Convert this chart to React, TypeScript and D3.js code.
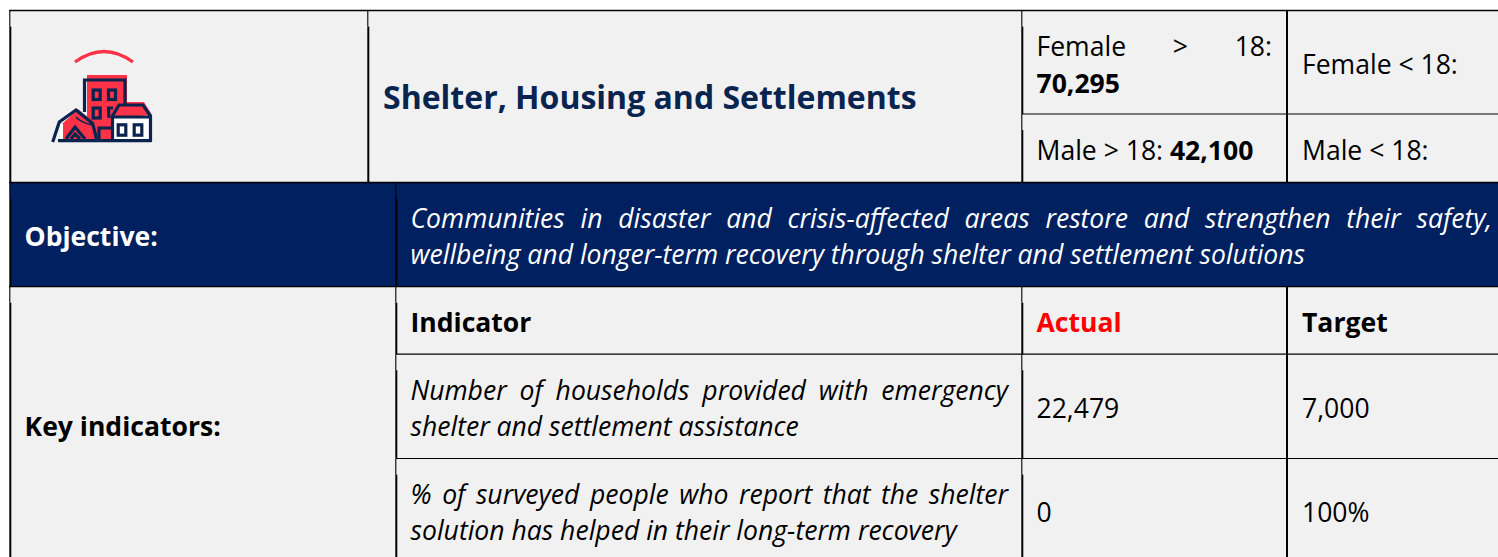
import React, { useEffect, useRef } from 'react';
import * as d3 from 'd3';

// table content
const sectorTitle = 'Shelter, Housing and Settlements';
const femaleAdult = ['Female > 18:', '70,295'];
const maleAdult = ['Male > 18: ', '42,100'];
const minorLabels = ['Female < 18:', 'Male < 18:'];
const objectiveLabel = 'Objective:';
const objectiveLines = [
  'Communities in disaster and crisis-affected areas restore and strengthen their safety,',
  'wellbeing and longer-term recovery through shelter and settlement solutions',
];
const keyLabel = 'Key indicators:';
const tableHeaders = ['Indicator', 'Actual', 'Target'];
const indicatorLines = [
  ['Number of households provided with emergency', 'shelter and settlement assistance'],
  ['% of surveyed people who report that the shelter', 'solution has helped in their long-term recovery'],
];
const actualValues = ['22,479', '0'];
const targetValues = ['7,000', '100%'];

const W = 1498;
const H = 557;
const NAVY = '#002060';
const INK = '#0a2450';
const GREY = '#f1f1f1';
const FONT = '"Open Sans", sans-serif';
const FS = 26.55;

export default function App() {
  const ref = useRef<SVGSVGElement>(null);

  useEffect(() => {
    const svg = d3.select(ref.current);
    svg.selectAll('*').remove();

    const col = { left: 10, split: 368, split2: 396, actual: 1022, target: 1287 };
    const row = { top: 10.5, mid: 114, head: 182.5, obj: 286.7, ind: 354.2, ind2: 458.5 };

    svg.append('rect').attr('x', col.left).attr('y', row.top).attr('width', W - col.left).attr('height', H - row.top).attr('fill', GREY);
    svg.append('rect').attr('x', col.left).attr('y', row.head).attr('width', W - col.left).attr('height', row.obj - row.head).attr('fill', NAVY);

    const rules = svg.append('g').attr('stroke', '#000').attr('fill', 'none');
    const line = (x1: number, y1: number, x2: number, y2: number, w: number) =>
      rules.append('line').attr('x1', x1).attr('y1', y1).attr('x2', x2).attr('y2', y2).attr('stroke-width', w);
    // cell borders in the source start thin for 16px, then go thick and shift right
    const cellEdge = (x: number, y1: number, y2: number) => {
      line(x - 0.2, y1, x - 0.2, y1 + 16, 1.1);
      line(x + 0.3, y1 + 16, x + 0.3, y2, 2);
    };

    // horizontal rules
    line(col.left - 1, row.top, W, row.top, 1.3);
    line(col.actual, row.mid, W, row.mid, 1.2);
    line(col.left - 1, row.head, W, row.head, 1.5);
    line(col.left - 1, row.obj, W, row.obj, 1.3);
    line(col.split2, row.ind, W, row.ind, 1.2);
    line(col.split2, row.ind2, W, row.ind2, 1.2);
    // vertical rules
    [[row.top, row.head], [row.head, row.obj], [row.obj, H]].forEach(([a, b]) => cellEdge(col.left, a, b));
    cellEdge(col.split, row.top, row.head);
    [[row.head, row.obj], [row.obj, row.ind], [row.ind, row.ind2], [row.ind2, H]].forEach(([a, b]) => cellEdge(col.split2, a, b));
    [[row.top, row.mid], [row.mid, row.head], [row.obj, row.ind], [row.ind, row.ind2], [row.ind2, H]].forEach(([a, b]) => cellEdge(col.actual, a, b));
    line(col.target, row.top, col.target, row.head, 2);
    line(col.target, row.obj, col.target, H, 2);

    // justifyTo spreads the words over the cell like the original justified text
    const put = (
      x: number,
      y: number,
      parts: { t: string; bold?: boolean }[],
      opts: { fill?: string; size?: number; italic?: boolean; justifyTo?: number } = {},
    ) => {
      const el = svg.append('text')
        .attr('x', x).attr('y', y + 0.6)
        .attr('font-family', FONT)
        .attr('font-size', opts.size ?? FS)
        .attr('font-style', opts.italic ? 'italic' : 'normal')
        .attr('fill', opts.fill ?? '#000')
        .style('white-space', 'pre');
      parts.forEach(p => el.append('tspan').attr('font-weight', p.bold ? 700 : 400).text(p.t));
      if (opts.justifyTo) {
        const node = el.node() as SVGTextElement;
        const gaps = parts[0].t.split(' ').length - 1;
        el.attr('word-spacing', (opts.justifyTo - x - node.getComputedTextLength()) / gaps);
      }
    };

    put(383, 108, [{ t: sectorTitle, bold: true }], { fill: INK, size: 32 });
    put(1036.5, 55, [{ t: femaleAdult[0] }], { justifyTo: 1272 });
    put(1036.5, 92, [{ t: femaleAdult[1], bold: true }]);
    put(1036.5, 159, [{ t: maleAdult[0] }, { t: maleAdult[1], bold: true }]);
    put(1302, 73, [{ t: minorLabels[0] }]);
    put(1302, 159, [{ t: minorLabels[1] }]);

    put(24.5, 245, [{ t: objectiveLabel, bold: true }], { fill: '#fff' });
    put(410.5, 227, [{ t: objectiveLines[0] }], { fill: '#fff', italic: true, justifyTo: 1492 });
    put(410.5, 263, [{ t: objectiveLines[1] }], { fill: '#fff', italic: true });

    put(24.5, 435, [{ t: keyLabel, bold: true }]);
    put(410.5, 331, [{ t: tableHeaders[0], bold: true }]);
    put(1036.5, 331, [{ t: tableHeaders[1], bold: true }], { fill: '#ff0000' });
    put(1302, 331, [{ t: tableHeaders[2], bold: true }]);

    const rowTop = d3.scaleOrdinal<number, number>().domain([0, 1]).range([399, 503]);
    indicatorLines.forEach((lines, i) => {
      const y = rowTop(i);
      put(410.5, y, [{ t: lines[0] }], { italic: true, justifyTo: 1008 });
      put(410.5, y + 36, [{ t: lines[1] }], { italic: true });
      put(1036.5, y + 18, [{ t: actualValues[i] }]);
      put(1302, y + 18, [{ t: targetValues[i] }]);
    });

    // sector icon
    const RED = '#ff3347';
    const icon = svg.append('g');
    const path = d3.path();
    path.moveTo(75, 62);
    path.quadraticCurveTo(104, 41, 133, 62);
    icon.append('path').attr('d', path.toString()).attr('fill', 'none').attr('stroke', RED).attr('stroke-width', 3.2);

    // red fills sit slightly up and right of the outlines
    icon.append('rect').attr('x', 87).attr('y', 75).attr('width', 40).attr('height', 66).attr('fill', RED);
    icon.append('path').attr('d', 'M62 124 L78 109 L97 125 L97 140 L62 140 Z').attr('fill', RED);
    icon.append('path').attr('d', 'M116 118 L120 102 L144 102 L152 115 Z').attr('fill', RED);
    icon.append('rect').attr('x', 113).attr('y', 117).attr('width', 37).attr('height', 23).attr('fill', '#fff');
    icon.append('rect').attr('x', 60).attr('y', 124).attr('width', 3).attr('height', 16).attr('fill', '#fff');

    const ink = icon.append('g').attr('fill', 'none').attr('stroke', INK).attr('stroke-width', 3.2);
    ink.append('path').attr('d', 'M84.500 112 L84.500 80 L125 80 L125 104');
    ink.append('rect').attr('x', 93.200).attr('y', 90).attr('width', 7).attr('height', 9.500);
    ink.append('rect').attr('x', 108.500).attr('y', 90).attr('width', 7).attr('height', 9.500);
    ink.append('rect').attr('x', 93.200).attr('y', 108).attr('width', 7).attr('height', 10);
    ink.append('path').attr('d', 'M109 118 L108.500 108 L113 108');
    ink.append('path').attr('d', 'M99 141 L99 128 L111 128');
    // tent
    ink.append('path').attr('d', 'M52.700 142 L59.300 122 L76 110 L92.700 123.500 L97 141');
    ink.append('path').attr('d', 'M58 140.700 L151 140.700');
    ink.append('path').attr('d', 'M76 117 Q80 122 92 125').attr('stroke-width', 1.5);
    ink.append('path').attr('d', 'M66 139 L75 127 L85 139 M71 139 L75 134 L80 139');
    // house
    ink.append('path').attr('d', 'M112.500 142 L112.500 116 L119 105 L143 105 L150.500 116 L150.500 142 M112 117 L151 117');
    ink.append('rect').attr('x', 118.200).attr('y', 124.800).attr('width', 7.600).attr('height', 10.400);
    ink.append('rect').attr('x', 134.200).attr('y', 124.800).attr('width', 7.600).attr('height', 10.400);
  }, []);

  return (
    <svg
      ref={ref}
      width={W}
      height={H}
      style={{ position: 'absolute', left: 0, top: 0, background: '#fff' }}
    />
  );
}
